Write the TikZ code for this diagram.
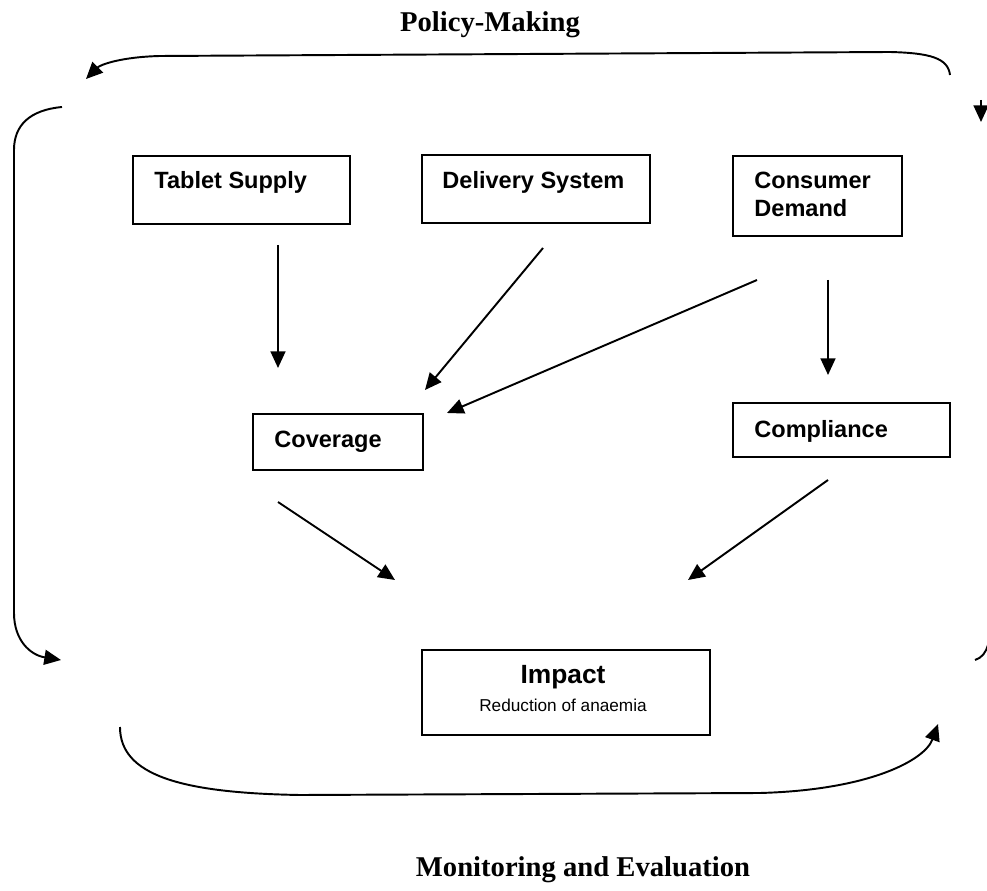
\documentclass[tikz,border=0pt]{standalone}
\usepackage{fontspec}
\setmainfont{Liberation Serif}
\setsansfont{Liberation Sans}
\usepackage{tikz}
\usetikzlibrary{arrows.meta}

\tikzset{
	box/.style={draw, line width=1.1pt, inner sep=0pt},
	boxtext/.style={anchor=north west, inner sep=0pt, align=left,
		font=\sffamily\bfseries\fontsize{13.4}{15.5}\selectfont},
	tip/.style={-{Triangle[length=9.5pt,width=8.5pt]}},
	flow/.style={line width=1.1pt, tip},
	loop/.style={line width=1.1pt},
	title/.style={font=\rmfamily\bfseries\fontsize{16.3}{19}\selectfont}
}

\begin{document}
\begin{tikzpicture}[x=0.02cm,y=-0.02cm]
	\useasboundingbox (0,0) rectangle (987,891);

	% boxes
	\node[box, minimum width=4.34cm, minimum height=1.36cm] (supply) at (241.5,190) {};
	\node[box, minimum width=4.56cm, minimum height=1.36cm] (delivery) at (536,189) {};
	\node[box, minimum width=3.38cm, minimum height=1.6cm] (demand) at (817.5,196) {};
	\node[box, minimum width=3.4cm, minimum height=1.12cm] (coverage) at (338,442) {};
	\node[box, minimum width=4.34cm, minimum height=1.08cm] (compliance) at (841.5,430) {};
	\node[box, minimum width=5.76cm, minimum height=1.7cm] (impact) at (566,692.5) {};

	\node[boxtext] (supplytxt) at ([shift={(22,16)}]supply.north west) {Tablet Supply};
	\node[boxtext] (deliverytxt) at ([shift={(21,17)}]delivery.north west) {Delivery System};
	\node[boxtext] (demandtxt) at ([shift={(22,17)}]demand.north west) {Consumer\\Demand};
	\node[boxtext] (coveragetxt) at ([shift={(22,18)}]coverage.north west) {Coverage};
	\node[boxtext] (compliancetxt) at ([shift={(22,18)}]compliance.north west) {Compliance};
	\node[anchor=north, inner sep=0pt, align=center] (impacttxt) at ([shift={(-3,16)}]impact.north)
		{{\sffamily\bfseries\fontsize{15}{17}\selectfont Impact}\\[4pt]
		 {\sffamily\fontsize{9.8}{11}\selectfont Reduction of anaemia}};

	% titles
	\node[title] (policy) at (490,25) {Policy-Making};
	\node[title] (monitor) at (583,870) {Monitoring and Evaluation};

	% arrow ends
	\coordinate (s1) at (278,245);  \coordinate (e1) at (278,368);
	\coordinate (s2) at (543,248);  \coordinate (e2) at (425,390);
	\coordinate (s3) at (757,280);  \coordinate (e3) at (447,413);
	\coordinate (s4) at (828,280);  \coordinate (e4) at (828,375);
	\coordinate (s5) at (278,502);  \coordinate (e5) at (395,580);
	\coordinate (s6) at (828,480);  \coordinate (e6) at (688,580);

	\draw[flow] (s1) -- (e1);
	\draw[flow] (s2) -- (e2);
	\draw[flow] (s3) -- (e3);
	\draw[flow] (s4) -- (e4);
	\draw[flow] (s5) -- (e5);
	\draw[flow] (s6) -- (e6);

	% the cycle round the boxes
	\coordinate (topR) at (950,75);
	\coordinate (topL) at (86,79);
	\coordinate (leftT) at (62,107);
	\coordinate (leftB) at (61,660);
	\coordinate (botL) at (120,727);
	\coordinate (botR) at (938,724);
	\coordinate (rightT) at (981,100);
	\coordinate (rightTip) at (981,122);
	\coordinate (rightB) at (975,660);

	\draw[loop, tip] (topR)
		.. controls (948,58) and (930,53) .. (890,52) -- (160,56)
		.. controls (120,57) and (100,65) .. (topL);
	\draw[loop, tip] (leftT)
		.. controls (30,110) and (14,125) .. (14,150) -- (14,613)
		.. controls (14,640) and (30,655) .. (leftB);
	\draw[loop, tip] (botL)
		.. controls (120,775) and (180,793) .. (300,795) -- (760,793)
		.. controls (870,790) and (925,760) .. (botR);
	\draw[loop, tip] (rightT) -- (rightTip);
	\draw[loop] (rightB) .. controls (982,658) and (986,652) .. (988,645);
\end{tikzpicture}
\end{document}
